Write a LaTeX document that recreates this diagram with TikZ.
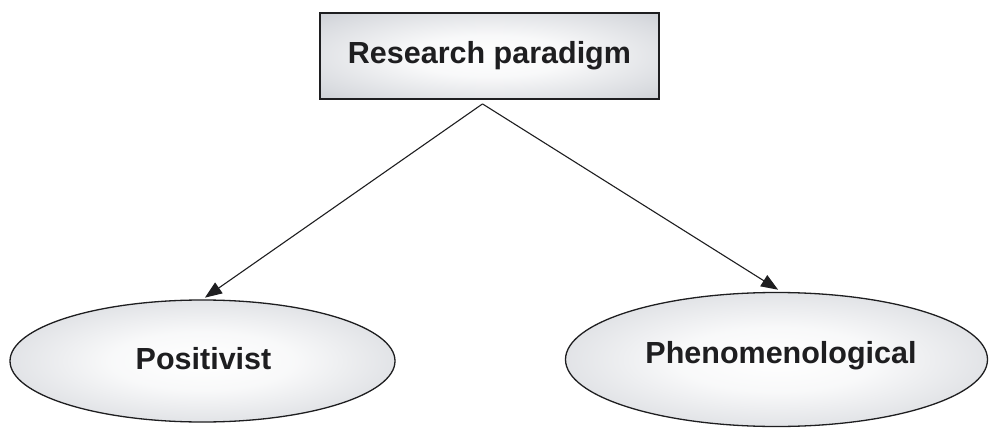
\documentclass[tikz,border=0pt]{standalone}
\usepackage{fontspec}
\setmainfont{Liberation Sans}
\usetikzlibrary{arrows.meta,shapes.geometric}
\definecolor{inkdark}{RGB}{30,30,32}
\definecolor{shadeedge}{RGB}{186,190,198}
% soft white-centred glow used by all three shapes
\pgfdeclareradialshading{softglow}{\pgfpoint{0bp}{0bp}}{%
  color(0bp)=(white);
  color(12bp)=(white!90!shadeedge);
  color(30bp)=(white!45!shadeedge);
  color(45bp)=(shadeedge);
  color(50bp)=(shadeedge)}
\tikzset{
  label text/.style={font=\fontsize{30.5}{34}\selectfont\bfseries, text=inkdark},
  paradigm/.style={draw=inkdark, line width=1.8pt, rectangle,
    shading=softglow, label text},
  stance/.style={draw=inkdark, line width=1.3pt, ellipse, inner sep=0pt,
    shading=softglow},
  link/.style={draw=inkdark, line width=1.1pt,
    -{Triangle[length=17pt,width=13pt]}, shorten >=3pt}
}
\begin{document}
\begin{tikzpicture}[x=1pt,y=-1pt]
  \useasboundingbox (0,0) rectangle (989,428);
  \fill[white] (0,0) rectangle (989,428);

  % top box
  \node[paradigm, minimum width=339pt, minimum height=86pt] (root) at (489.5,56) {Research paradigm};

  % the two paradigms
  \node[stance, minimum width=385pt, minimum height=122pt] (pos) at (202.5,361) {};
  \node[label text] (postext) at (203.5,359) {Positivist};
  \node[stance, minimum width=422pt, minimum height=134pt] (phen) at (776.5,359.5) {};
  \node[label text] (phentext) at (781,356) {Phenomenological};

  % connectors
  \coordinate (apex) at ([xshift=-7pt,yshift=-4pt]root.south);
  \draw[link] (apex) -- (pos.north);
  \draw[link, shorten >=4pt] (apex) -- ([xshift=5pt]phen.north);
\end{tikzpicture}
\end{document}
